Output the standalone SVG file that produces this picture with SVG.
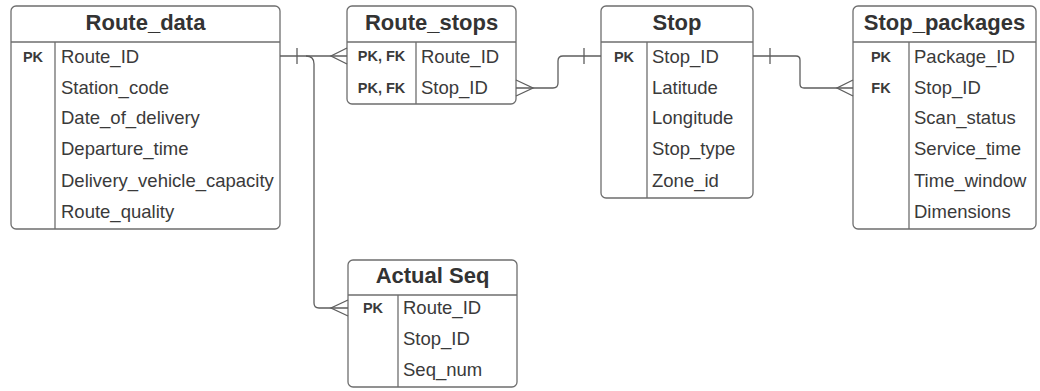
<svg xmlns="http://www.w3.org/2000/svg" width="1040" height="391" viewBox="0 0 1040 391">
  <style>
    .box { fill: #ffffff; stroke: #6e6e6e; stroke-width: 1.3; }
    .sep { stroke: #6e6e6e; stroke-width: 1.3; fill: none; }
    .title { font-family: "Liberation Sans", Arial, sans-serif; font-weight: bold; font-size: 22px; fill: #333333; text-anchor: middle; }
    .key { font-family: "Liberation Sans", Arial, sans-serif; font-weight: bold; font-size: 14.5px; fill: #3a3a3a; text-anchor: middle; }
    .field { font-family: "Liberation Sans", Arial, sans-serif; font-size: 18.5px; fill: #3a3a3a; }
    .link { stroke: #5e5e5e; stroke-width: 1.3; fill: none; }
  </style>
  <rect width="1040" height="391" fill="#ffffff"/>

  <!-- Route_data -->
  <g id="route_data">
    <rect class="box" x="11" y="6" width="269" height="223" rx="5"/>
    <line class="sep" x1="11" y1="42" x2="280" y2="42"/>
    <line class="sep" x1="55" y1="42" x2="55" y2="229"/>
    <text class="title" x="145.5" y="30">Route_data</text>
    <text class="key" x="33" y="61.5">PK</text>
    <text class="field" x="61" y="62.5">Route_ID</text>
    <text class="field" x="61" y="93.5">Station_code</text>
    <text class="field" x="61" y="124">Date_of_delivery</text>
    <text class="field" x="61" y="155">Departure_time</text>
    <text class="field" x="61" y="186.5">Delivery_vehicle_capacity</text>
    <text class="field" x="61" y="217.5">Route_quality</text>
  </g>

  <!-- Route_stops -->
  <g id="route_stops">
    <rect class="box" x="347" y="6" width="169" height="98" rx="5"/>
    <line class="sep" x1="347" y1="42" x2="516" y2="42"/>
    <line class="sep" x1="416" y1="42" x2="416" y2="104"/>
    <text class="title" x="431.5" y="30">Route_stops</text>
    <text class="key" x="381.5" y="61">PK, FK</text>
    <text class="key" x="381.5" y="92.5">PK, FK</text>
    <text class="field" x="421" y="62.5">Route_ID</text>
    <text class="field" x="421" y="94">Stop_ID</text>
  </g>

  <!-- Stop -->
  <g id="stop">
    <rect class="box" x="601" y="6" width="152" height="192" rx="5"/>
    <line class="sep" x1="601" y1="42" x2="753" y2="42"/>
    <line class="sep" x1="647" y1="42" x2="647" y2="198"/>
    <text class="title" x="677" y="30">Stop</text>
    <text class="key" x="624" y="61.5">PK</text>
    <text class="field" x="652" y="62.5">Stop_ID</text>
    <text class="field" x="652" y="93.5">Latitude</text>
    <text class="field" x="652" y="124">Longitude</text>
    <text class="field" x="652" y="155">Stop_type</text>
    <text class="field" x="652" y="186.5">Zone_id</text>
  </g>

  <!-- Stop_packages -->
  <g id="stop_packages">
    <rect class="box" x="853" y="6" width="183" height="223" rx="5"/>
    <line class="sep" x1="853" y1="42" x2="1036" y2="42"/>
    <line class="sep" x1="909" y1="42" x2="909" y2="229"/>
    <text class="title" x="944.5" y="30">Stop_packages</text>
    <text class="key" x="881" y="61.5">PK</text>
    <text class="key" x="881" y="92.5">FK</text>
    <text class="field" x="914" y="62.5">Package_ID</text>
    <text class="field" x="914" y="93.5">Stop_ID</text>
    <text class="field" x="914" y="124">Scan_status</text>
    <text class="field" x="914" y="155">Service_time</text>
    <text class="field" x="914" y="186.5">Time_window</text>
    <text class="field" x="914" y="217.5">Dimensions</text>
  </g>

  <!-- Actual Seq -->
  <g id="actual_seq">
    <rect class="box" x="348" y="260" width="169" height="127" rx="5"/>
    <line class="sep" x1="348" y1="295" x2="517" y2="295"/>
    <line class="sep" x1="398" y1="295" x2="398" y2="387"/>
    <text class="title" x="432.5" y="283">Actual Seq</text>
    <text class="key" x="373" y="313">PK</text>
    <text class="field" x="403" y="314">Route_ID</text>
    <text class="field" x="403" y="345">Stop_ID</text>
    <text class="field" x="403" y="376">Seq_num</text>
  </g>

  <!-- Relationships -->
  <g id="connectors">
    <!-- Route_data 1 : N Route_stops -->
    <path class="link" d="M280,56 H347"/>
    <path class="link" d="M297,48 V64"/>
    <path class="link" d="M347,48 L331,56 L347,64"/>

    <!-- Route_data 1 : N Actual Seq -->
    <path class="link" d="M306,56 Q314,56 314,64 V303 Q314,308 319,308 H348"/>
    <path class="link" d="M348,300 L331,308 L348,316"/>

    <!-- Route_stops N : 1 Stop -->
    <path class="link" d="M516,88 H553 Q558,88 558,83 V61 Q558,56 563,56 H601"/>
    <path class="link" d="M516,80 L533,88 L516,96"/>
    <path class="link" d="M584,48 V64"/>

    <!-- Stop 1 : N Stop_packages -->
    <path class="link" d="M753,56 H796 Q800,56 800,60 V84 Q800,88 804,88 H853"/>
    <path class="link" d="M770,48 V64"/>
    <path class="link" d="M853,80 L837,88 L853,96"/>
  </g>
</svg>
